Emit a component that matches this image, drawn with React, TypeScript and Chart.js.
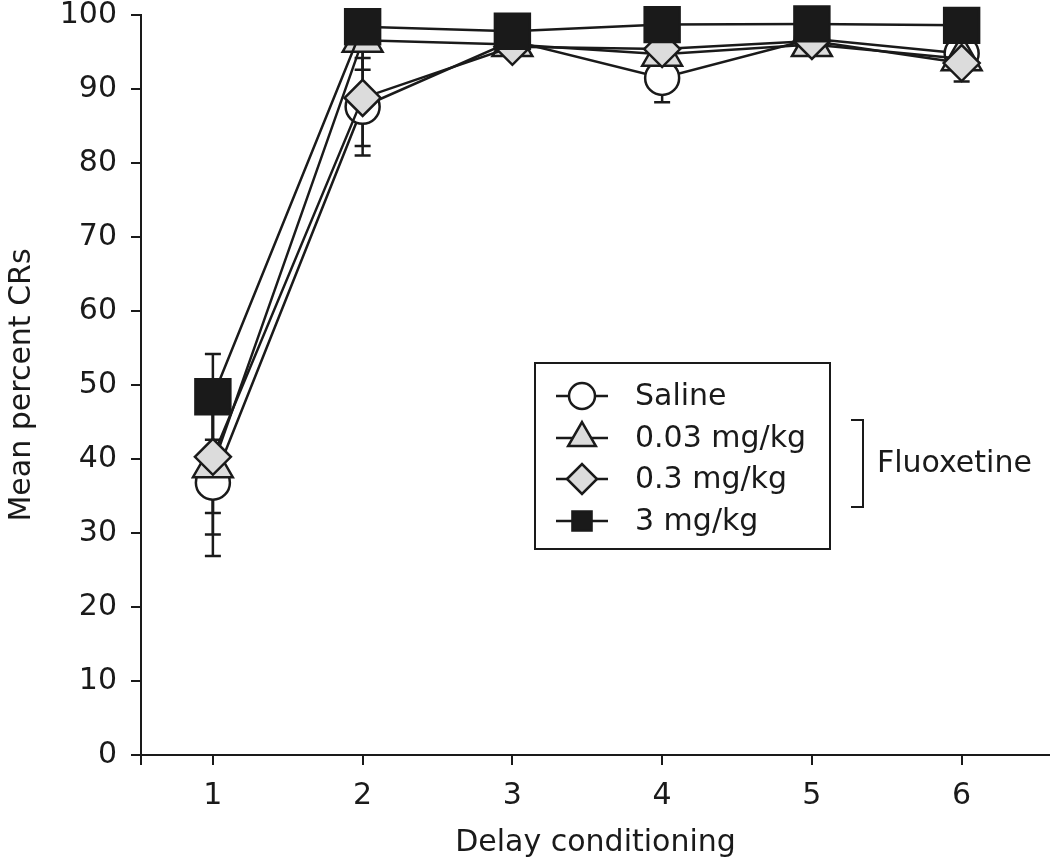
import React, { useEffect, useRef } from "react";
import { Chart, registerables } from "chart.js";
import { drawPoint } from "chart.js/helpers";

Chart.register(...registerables);

const sessions = [1, 2, 3, 4, 5, 6];
const salineMean = [36.8, 87.6, 96.5, 91.5, 96.8, 94.8];
const salineSem = [9.9, 6.6, 1.5, 3.3, 0.5, 1.0];
const dose003Mean = [39.1, 96.6, 96.0, 94.7, 96.0, 94.1];
const dose003Sem = [9.3, 4.0, 1.0, 1.0, 0.5, 1.0];
const dose03Mean = [40.3, 88.8, 95.7, 95.4, 96.5, 93.5];
const dose03Sem = [7.6, 6.5, 1.0, 1.0, 0.5, 2.5];
const dose3Mean = [48.4, 98.4, 97.8, 98.7, 98.8, 98.6];
const dose3Sem = [5.8, 0.8, 2.3, 0.5, 0.5, 0.5];

const seriesLabels = ["Saline", "0.03 mg/kg", "0.3 mg/kg", "3 mg/kg"];
const groupLabel = "Fluoxetine";
const xTitle = "Delay conditioning";
const yTitle = "Mean percent CRs";

const FONT = "'DejaVu Sans', 'Liberation Sans', Arial, sans-serif";
const GREY = "#dcdcdc";
const BLACK = "#1a1a1a";
const LW = 2.5;

const styles = [
  { pointStyle: "circle", radius: 17, bg: "#ffffff", legendR: 13 },
  { pointStyle: "triangle", radius: 23, bg: GREY, legendR: 16 },
  { pointStyle: "rectRot", radius: 18, bg: GREY, legendR: 15 },
  { pointStyle: "rect", radius: 24.7, bg: BLACK, legendR: 13.5 },
];

const means = [salineMean, dose003Mean, dose03Mean, dose3Mean];
const sems = [salineSem, dose003Sem, dose03Sem, dose3Sem];

const errorBarPlugin = {
  id: "errorBars",
  beforeDatasetsDraw(chart: any) {
    const { ctx, scales } = chart;
    const xs = scales.x;
    const ys = scales.y;
    ctx.save();
    ctx.strokeStyle = BLACK;
    ctx.lineWidth = LW;
    means.forEach((m, i) => {
      m.forEach((v, j) => {
        const s = sems[i][j];
        const px = xs.getPixelForValue(sessions[j]);
        const top = ys.getPixelForValue(v + s);
        const bot = ys.getPixelForValue(v - s);
        ctx.beginPath();
        ctx.moveTo(px, top);
        ctx.lineTo(px, bot);
        ctx.moveTo(px - 8, top);
        ctx.lineTo(px + 8, top);
        ctx.moveTo(px - 8, bot);
        ctx.lineTo(px + 8, bot);
        ctx.stroke();
      });
    });
    ctx.restore();
  },
};

const legendPlugin = {
  id: "customLegend",
  afterDraw(chart: any) {
    const { ctx, scales } = chart;
    ctx.save();
    const ax = scales.x.left;
    const ay = scales.y.bottom;
    ctx.strokeStyle = BLACK;
    ctx.lineWidth = 2;
    ctx.beginPath();
    ctx.moveTo(ax, ay);
    ctx.lineTo(ax, ay + 10);
    ctx.stroke();

    ctx.fillStyle = "#ffffff";
    ctx.fillRect(535, 363, 295, 186);
    ctx.strokeRect(535, 363, 295, 186);
    const rows = [396, 438, 479, 521];
    ctx.font = `30px ${FONT}`;
    ctx.textBaseline = "middle";
    ctx.textAlign = "left";
    seriesLabels.forEach((lab, i) => {
      const y = rows[i];
      ctx.strokeStyle = BLACK;
      ctx.lineWidth = LW;
      ctx.beginPath();
      ctx.moveTo(556, y);
      ctx.lineTo(608, y);
      ctx.stroke();
      ctx.fillStyle = styles[i].bg;
      drawPoint(
        ctx,
        { pointStyle: styles[i].pointStyle, radius: styles[i].legendR, rotation: 0, borderWidth: LW } as any,
        582,
        y
      );
      ctx.fillStyle = BLACK;
      ctx.fillText(lab, 635, y + 1);
    });

    ctx.strokeStyle = BLACK;
    ctx.lineWidth = 2;
    ctx.beginPath();
    ctx.moveTo(851, 420);
    ctx.lineTo(863, 420);
    ctx.lineTo(863, 507);
    ctx.lineTo(851, 507);
    ctx.stroke();
    ctx.fillStyle = BLACK;
    ctx.fillText(groupLabel, 877, 464);
    ctx.restore();
  },
};

export default function App() {
  const ref = useRef<HTMLCanvasElement>(null);
  useEffect(() => {
    if (!ref.current) return;
    const datasets = seriesLabels.map((lab, i) => ({
      label: lab,
      data: sessions.map((x, j) => ({ x, y: means[i][j] })),
      borderColor: BLACK,
      borderWidth: LW,
      pointStyle: styles[i].pointStyle as any,
      pointRadius: styles[i].radius,
      pointBackgroundColor: styles[i].bg,
      pointBorderColor: BLACK,
      pointBorderWidth: LW,
      fill: false,
      tension: 0,
      clip: false,
      order: 3 - i,
    }));
    const tickFont = { family: FONT, size: 30 };
    const chart = new Chart(ref.current, {
      type: "line",
      data: { datasets },
      plugins: [errorBarPlugin, legendPlugin],
      options: {
        animation: false,
        responsive: false,
        devicePixelRatio: 1,
        layout: { padding: 0, autoPadding: false },
        plugins: { legend: { display: false }, tooltip: { enabled: false } },
        scales: {
          x: {
            type: "linear",
            min: 0.52,
            max: 6.59,
            afterFit: (s: any) => {
              s.height = 108;
              s.paddingLeft = 0;
              s.paddingRight = 0;
            },
            afterBuildTicks: (s: any) => {
              s.ticks = sessions.map((v) => ({ value: v }));
            },
            ticks: {
              stepSize: 1,
              includeBounds: false,
              color: BLACK,
              font: tickFont,
              padding: 13,
              maxRotation: 0,
            },
            grid: {
              drawOnChartArea: false,
              drawTicks: true,
              tickLength: 10,
              color: BLACK,
              lineWidth: 2,
            },
            border: { display: true, color: BLACK, width: 2 },
            title: {
              display: true,
              text: xTitle,
              color: BLACK,
              font: tickFont,
              padding: { top: 4, bottom: 2 },
            },
          },
          y: {
            min: 0,
            max: 100,
            afterFit: (s: any) => {
              s.width = 141;
              s.paddingTop = 15;
              s.paddingBottom = 0;
            },
            ticks: {
              stepSize: 10,
              color: BLACK,
              font: tickFont,
              padding: 14,
            },
            grid: {
              drawOnChartArea: false,
              drawTicks: true,
              tickLength: 10,
              color: BLACK,
              lineWidth: 2,
            },
            border: { display: true, color: BLACK, width: 2 },
            title: {
              display: true,
              text: yTitle,
              color: BLACK,
              font: tickFont,
              padding: { top: 4, bottom: 4 },
            },
          },
        },
      } as any,
    });
    return () => chart.destroy();
  }, []);
  return (
    <div style={{ position: "absolute", left: 0, top: 0, width: 1050, height: 863, background: "#fff" }}>
      <canvas ref={ref} width={1050} height={863} />
    </div>
  );
}
